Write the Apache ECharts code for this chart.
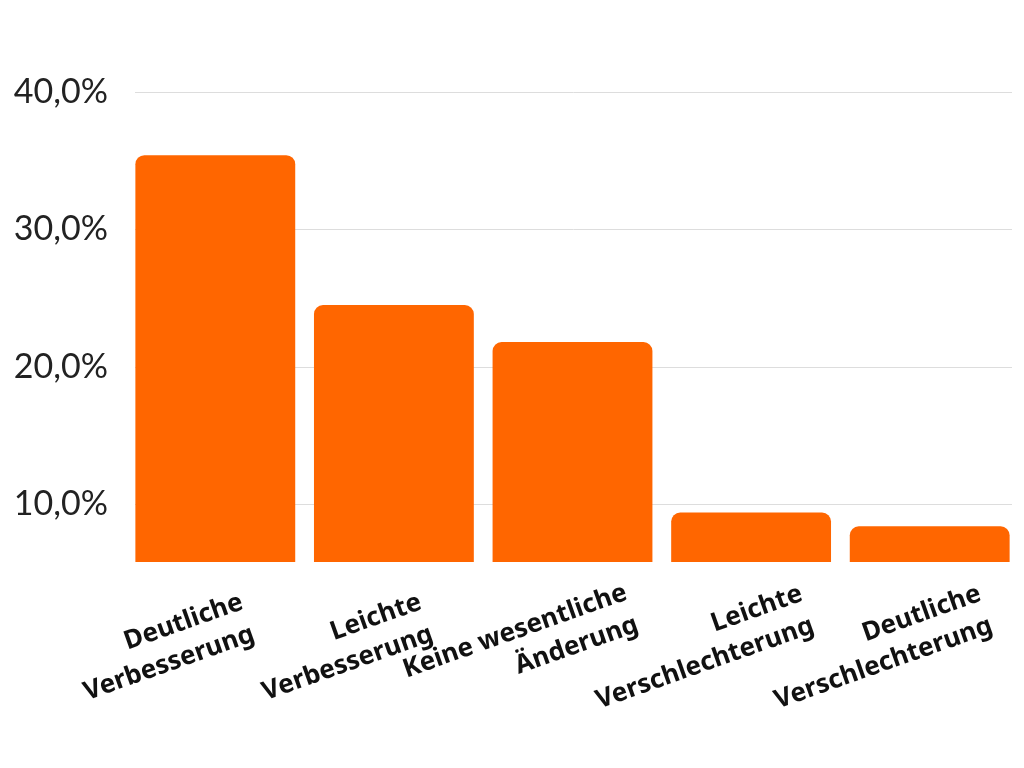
<!DOCTYPE html>
<html>
<head>
<meta charset="utf-8">
<script src="https://cdn.jsdelivr.net/npm/echarts@6/dist/echarts.min.js"></script>
<style>
html,body{margin:0;padding:0;background:#fff;}
#chart{width:1024px;height:768px;}
</style>
</head>
<body>
<div id="chart"></div>
<script>
const categories = [
  'Deutliche\nVerbesserung',
  'Leichte\nVerbesserung',
  'Keine wesentliche\nÄnderung',
  'Leichte\nVerschlechterung',
  'Deutliche\nVerschlechterung'
];
const values = [35.4, 24.5, 21.8, 9.4, 8.4];
const tickValues = [10, 20, 30, 40];

const yMin = 5.8, yMax = 40;

const chart = echarts.init(document.getElementById('chart'));
chart.setOption({
  animation: false,
  backgroundColor: '#ffffff',
  grid: [
    { left: 135, right: 12, top: 92, bottom: 206, containLabel: false },
    { left: 126, right: 5, top: 92, bottom: 206, containLabel: false }
  ],
  xAxis: [
    { type: 'category', gridIndex: 0, data: categories, show: false },
    {
      type: 'category',
      gridIndex: 1,
      data: categories,
      axisLine: { show: false },
      axisTick: { show: false },
      axisLabel: {
        interval: 0,
        rotate: 19.5,
        margin: 67,
        align: 'center',
        verticalAlign: 'middle',
        padding: [0, 110, 0, 0],
        formatter: function (v) {
          return v.split('\n').map(function (s) { return '{a|' + s + '}'; }).join('\n');
        },
        rich: {
          a: {
            fontFamily: 'Noto Sans',
            fontWeight: 'bold',
            fontSize: 26,
            color: '#111111',
            lineHeight: 34,
            align: 'right'
          }
        }
      }
    }
  ],
  yAxis: [
    {
      type: 'value',
      gridIndex: 0,
      min: yMin,
      max: yMax,
      splitNumber: 3,
      axisLine: { show: false },
      axisTick: { show: false },
      splitLine: { show: true, showMinLine: false, lineStyle: { color: '#dddddd', width: 1 } },
      axisLabel: {
        margin: 27,
        fontFamily: 'Lato',
        fontSize: 34,
        color: '#222222',
        formatter: function (v) {
          if (tickValues.indexOf(Math.round(v * 100) / 100) < 0) return '';
          return v.toFixed(1).replace('.', ',') + '%';
        }
      }
    },
    { type: 'value', gridIndex: 1, min: yMin, max: yMax, show: false }
  ],
  series: [{
    type: 'bar',
    xAxisIndex: 1,
    yAxisIndex: 1,
    data: values,
    barCategoryGap: '10.5%',
    itemStyle: { color: '#FF6600', borderRadius: [9, 9, 0, 0] }
  }]
});
</script>
</body>
</html>
